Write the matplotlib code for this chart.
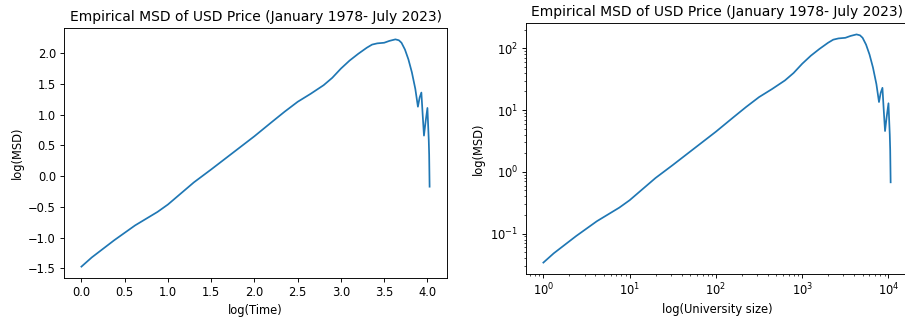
import numpy as np
import matplotlib
matplotlib.use("Agg")
import matplotlib.pyplot as plt

# log10(lag) and log10(MSD)
log_time = [0.0, 0.12, 0.25, 0.38, 0.5, 0.62, 0.75, 0.88, 1.0, 1.1, 1.2, 1.3, 1.4,
            1.5, 1.75, 2.0, 2.2, 2.35, 2.5, 2.65, 2.8, 2.9, 3.0, 3.1, 3.2, 3.3,
            3.36, 3.42, 3.5, 3.56, 3.63, 3.67, 3.70, 3.74, 3.78, 3.82, 3.86, 3.89,
            3.91, 3.93, 3.945, 3.96, 3.98, 4.00, 4.015, 4.02, 4.025]
log_msd = [-1.47, -1.32, -1.18, -1.04, -0.92, -0.80, -0.69, -0.58, -0.46, -0.34,
           -0.22, -0.10, 0.005, 0.11, 0.38, 0.65, 0.88, 1.05, 1.21, 1.34, 1.48,
           1.60, 1.75, 1.88, 1.99, 2.09, 2.14, 2.16, 2.17, 2.20, 2.225, 2.21, 2.17,
           2.06, 1.90, 1.69, 1.42, 1.13, 1.28, 1.36, 1.00, 0.66, 0.90, 1.11, 0.60,
           0.35, -0.17]

title = "Empirical MSD of USD Price (January 1978- July 2023)"

lt = np.array(log_time)
lm = np.array(log_msd)

DPI = 83
fig = plt.figure(figsize=(905 / DPI, 320 / DPI), dpi=DPI)

ax1 = fig.add_axes([64 / 905, (320 - 278) / 320, 383 / 905, 250 / 320])
ax1.plot(lt, lm, color="#1f77b4", linewidth=1.5)
ax1.set_title(title)
ax1.set_xlabel("log(Time)")
ax1.set_ylabel("log(MSD)")

ax2 = fig.add_axes([526 / 905, (320 - 274) / 320, 382 / 905, 251 / 320])
ax2.plot(10 ** lt, 10 ** lm, color="#1f77b4", linewidth=1.5)
ax2.set_xscale("log")
ax2.set_yscale("log")
ax2.set_title(title)
ax2.set_xlabel("log(University size)")
ax2.set_ylabel("log(MSD)")

fig.savefig("out.png", dpi=DPI)
